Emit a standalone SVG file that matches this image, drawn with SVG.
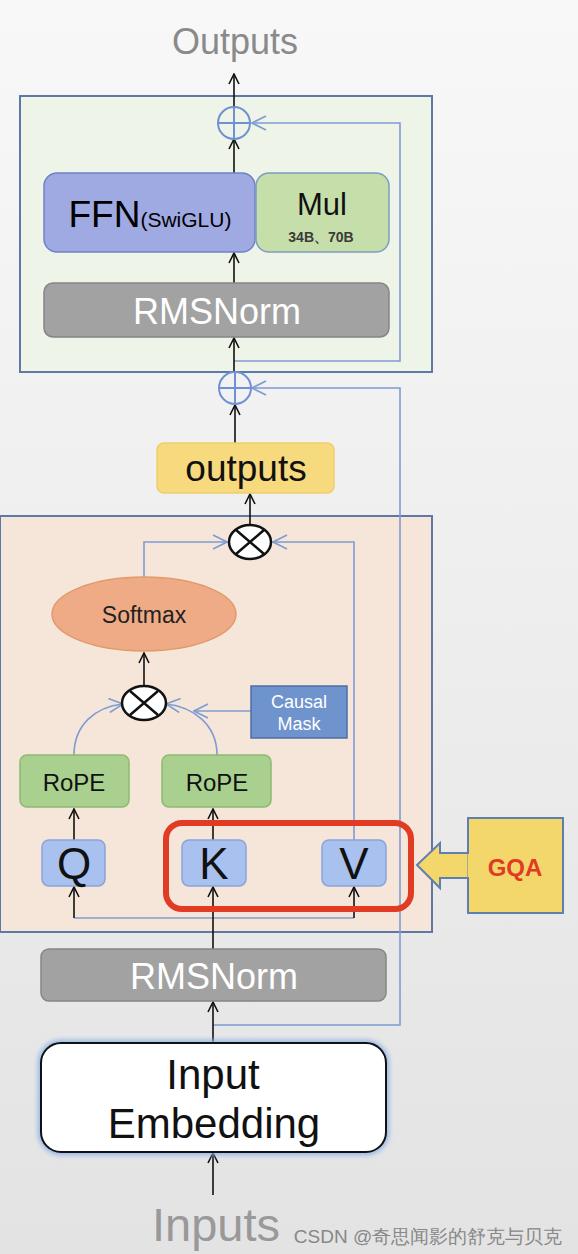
<svg xmlns="http://www.w3.org/2000/svg" width="578" height="1254" viewBox="0 0 578 1254">
<defs>
<linearGradient id="bg" x1="0" y1="0" x2="0" y2="1">
<stop offset="0" stop-color="#f8f8f8"/>
<stop offset="1" stop-color="#e3e3e3"/>
</linearGradient>
<marker id="ab" viewBox="0 0 12 12" refX="11" refY="6" markerWidth="12" markerHeight="12" markerUnits="userSpaceOnUse" orient="auto">
<path d="M1,1 L11,6 L1,11" fill="none" stroke="#111" stroke-width="1.6"/>
</marker>
<marker id="au" viewBox="0 0 16 16" refX="15" refY="8" markerWidth="16" markerHeight="16" markerUnits="userSpaceOnUse" orient="auto">
<path d="M1,1 L15,8 L1,15" fill="none" stroke="#7f9cd2" stroke-width="1.6"/>
</marker>
<filter id="glow" x="-10%" y="-10%" width="120%" height="120%">
<feGaussianBlur stdDeviation="2.5"/>
</filter>
</defs>
<style>
text{font-family:"Liberation Sans",Arial,sans-serif;text-anchor:middle}
.frame{stroke:#5d7aa6;stroke-width:2}
.blk{fill:none;stroke:#111;stroke-width:1.6}
.blu{fill:none;stroke:#7f9cd2;stroke-width:1.6}
.plus{fill:none;stroke:#6f90d6;stroke-width:2}
.mul{fill:#fff;stroke:#111;stroke-width:2.5}
.rope{fill:#a9d08e;stroke:#8cba70;stroke-width:1.5}
.qkv{fill:#a8c1ee;stroke:#88a4d6;stroke-width:1.5}
.gray{fill:#a2a2a2;stroke:#858585;stroke-width:1.5}
.rmst{fill:#fff;font-size:36px}
</style>
<rect width="578" height="1254" fill="url(#bg)"/>

<g id="ffn-block">
<rect x="20" y="96" width="412" height="276" fill="#eff4e8" class="frame"/>
</g>
<g id="attn-block">
<rect x="0" y="516" width="432" height="416" fill="#f6e5d9" class="frame"/>
</g>

<g id="connectors">
<polyline class="blu" points="234,361 400,361 400,123 252,123" marker-end="url(#au)"/>
<polyline class="blu" points="213,1025 400,1025 400,388 252,388" marker-end="url(#au)"/>
<line class="blk" x1="234" y1="107" x2="234" y2="74" marker-end="url(#ab)"/>
<line class="blk" x1="234" y1="173" x2="234" y2="139" marker-end="url(#ab)"/>
<line class="blk" x1="234" y1="283" x2="234" y2="253" marker-end="url(#ab)"/>
<line class="blk" x1="234" y1="372" x2="234" y2="338" marker-end="url(#ab)"/>
<line class="blk" x1="235" y1="443" x2="235" y2="405" marker-end="url(#ab)"/>
<line class="blk" x1="250" y1="525" x2="250" y2="494" marker-end="url(#ab)"/>
<polyline class="blu" points="144,577 144,542 227,542" marker-end="url(#au)"/>
<polyline class="blu" points="354,842 354,542 273,542" marker-end="url(#au)"/>
<line class="blk" x1="144" y1="686" x2="144" y2="653" marker-end="url(#ab)"/>
<path class="blu" d="M74,755 C74,725 95,707 123,704" marker-end="url(#au)"/>
<path class="blu" d="M217,755 C217,725 194,707 166,704" marker-end="url(#au)"/>
<line class="blu" x1="251" y1="711" x2="194" y2="711" marker-end="url(#au)"/>
<line class="blk" x1="74" y1="840" x2="74" y2="809" marker-end="url(#ab)"/>
<line class="blk" x1="213" y1="840" x2="213" y2="809" marker-end="url(#ab)"/>
<polyline class="blu" points="74,918 354,918"/>
<line class="blk" x1="74" y1="918" x2="74" y2="887" marker-end="url(#ab)"/>
<line class="blk" x1="354" y1="918" x2="354" y2="887" marker-end="url(#ab)"/>
<line class="blk" x1="213" y1="949" x2="213" y2="887" marker-end="url(#ab)"/>
<line class="blk" x1="213" y1="1043" x2="213" y2="1002" marker-end="url(#ab)"/>
<line class="blk" x1="213" y1="1195" x2="213" y2="1153" marker-end="url(#ab)"/>
</g>

<g id="outputs-label"><text x="235" y="54" font-size="36" fill="#8a8a8a">Outputs</text></g>

<g id="add1">
<circle cx="234" cy="123" r="16" fill="none" class="plus"/>
<path class="plus" d="M218,123 H250 M234,107 V139"/>
</g>

<g id="ffn">
<rect x="44" y="173" width="211" height="79" rx="13" fill="#9fa9e2" stroke="#6f82c6" stroke-width="1.5"/>
<text x="150" y="227"><tspan font-size="37">FFN</tspan><tspan font-size="21">(SwiGLU)</tspan></text>
</g>
<g id="mul-box">
<rect x="256" y="173" width="133" height="79" rx="13" fill="#c6dea9" stroke="#7e9cc0" stroke-width="1.5"/>
<text x="322" y="215" font-size="31" fill="#111">Mul</text>
<text x="321" y="242" font-size="14" font-weight="bold" fill="#3a3a3a">34B、70B</text>
</g>
<g id="rmsnorm-top">
<rect x="44" y="283" width="345" height="54" rx="9" class="gray"/>
<text x="217" y="324" class="rmst">RMSNorm</text>
</g>

<g id="add2">
<circle cx="235" cy="388" r="16" fill="none" class="plus"/>
<path class="plus" d="M219,388 H251 M235,372 V404"/>
</g>

<g id="outputs">
<rect x="157" y="443" width="177" height="50" rx="7" fill="#f7d97e" stroke="#efcd6e" stroke-width="1.5"/>
<text x="246" y="481" font-size="37" fill="#111">outputs</text>
</g>

<g id="matmul2">
<ellipse cx="250" cy="542" rx="21" ry="17" class="mul"/>
<path d="M236,530 L264,554 M264,530 L236,554" stroke="#111" stroke-width="2.5"/>
</g>

<g id="softmax">
<ellipse cx="144" cy="614" rx="92" ry="37" fill="#eeab86" stroke="#e39a6a" stroke-width="1.5"/>
<text x="144" y="623" font-size="23" fill="#222">Softmax</text>
</g>

<g id="matmul1">
<ellipse cx="144" cy="703" rx="22" ry="17" class="mul"/>
<path d="M130,691 L158,715 M158,691 L130,715" stroke="#111" stroke-width="2.5"/>
</g>

<g id="causal-mask">
<rect x="251" y="686" width="96" height="52" fill="#6f94cd" stroke="#4d6ea6" stroke-width="1.5"/>
<text x="299" y="708" font-size="18" fill="#fff">Causal</text>
<text x="299" y="730" font-size="18" fill="#fff">Mask</text>
</g>

<g id="rope-q">
<rect x="20" y="755" width="109" height="52" rx="7" class="rope"/>
<text x="74" y="791" font-size="24" fill="#111">RoPE</text>
</g>
<g id="rope-k">
<rect x="162" y="755" width="109" height="52" rx="7" class="rope"/>
<text x="217" y="791" font-size="24" fill="#111">RoPE</text>
</g>

<g id="q">
<rect x="42" y="840" width="63" height="46" rx="7" class="qkv"/>
<text x="74" y="879" font-size="44" fill="#111">Q</text>
</g>
<g id="k">
<rect x="182" y="840" width="64" height="46" rx="7" class="qkv"/>
<text x="214" y="879" font-size="44" fill="#111">K</text>
</g>
<g id="v">
<rect x="322" y="840" width="64" height="46" rx="7" class="qkv"/>
<text x="354" y="879" font-size="44" fill="#111">V</text>
</g>

<g id="gqa-group">
<rect x="166" y="823" width="245" height="86" rx="16" fill="none" stroke="#e23b24" stroke-width="6"/>
</g>

<g id="gqa">
<path d="M417,865 L440,843 L440,853 L469,853 L469,878 L440,878 L440,888 Z" fill="#f4d76b" stroke="#5f7fae" stroke-width="2"/>
<rect x="468" y="818" width="95" height="95" fill="#f4d76b" stroke="#5f7fae" stroke-width="2"/>
<path d="M469,854 V877" stroke="#f4d76b" stroke-width="3"/>
<text x="515" y="876" font-size="24" font-weight="bold" fill="#df3b25">GQA</text>
</g>

<g id="rmsnorm-bottom">
<rect x="41" y="949" width="345" height="52" rx="8" class="gray"/>
<text x="214" y="989" class="rmst">RMSNorm</text>
</g>

<g id="input-embedding">
<rect x="41" y="1043" width="345" height="109" rx="20" fill="none" stroke="#8fb3ea" stroke-width="6" filter="url(#glow)"/>
<rect x="41" y="1043" width="345" height="109" rx="20" fill="#fff" stroke="#111" stroke-width="2"/>
<text x="213" y="1089" font-size="42" fill="#111">Input</text>
<text x="214" y="1138" font-size="42" fill="#111">Embedding</text>
</g>

<g id="inputs-label"><text x="216" y="1241" font-size="47" fill="#999">Inputs</text></g>

<g id="watermark">
<text x="428" y="1243" font-size="19" fill="#888" font-family="'Liberation Sans','Noto Sans CJK SC',sans-serif">CSDN @奇思闻影的舒克与贝克</text>
</g>
</svg>
